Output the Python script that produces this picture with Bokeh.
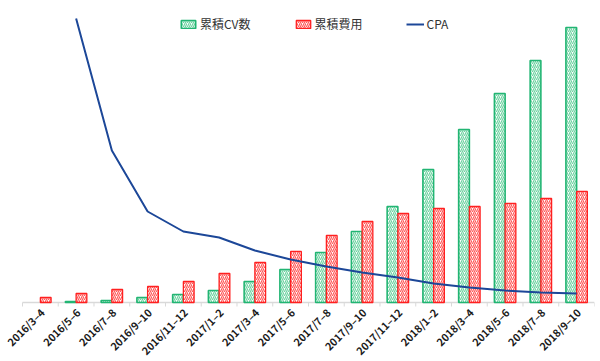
import math
from bokeh.plotting import figure
from bokeh.models import ColumnDataSource, Range1d, Legend, LegendItem
from bokeh.core.properties import value
from bokeh.embed import file_html
from bokeh.resources import INLINE

periods = ["2016/3–4", "2016/5–6", "2016/7–8", "2016/9–10", "2016/11–12",
           "2017/1–2", "2017/3–4", "2017/5–6", "2017/7–8", "2017/9–10", "2017/11–12",
           "2018/1–2", "2018/3–4", "2018/5–6", "2018/7–8", "2018/9–10"]
cv_total = [float("nan"), 1, 2, 5, 8, 12, 21, 33, 50, 71, 96, 133, 173, 209, 242, 275]
cost_total = [5, 9, 13, 16, 21, 29, 40, 51, 67, 81, 89, 94, 96, 99, 104, 111]
cpa = [float("nan"), 284, 152, 91, 71, 65, 52, 43, 36, 30, 25, 19, 15, 12, 10, 9]

n = len(periods)
centers = [i + 0.5 for i in range(n)]
src = ColumnDataSource(dict(
    x=centers,
    xg=[c - 0.15 for c in centers],
    xr=[c + 0.15 for c in centers],
    cv=cv_total, cost=cost_total, cpa=cpa,
    lab=periods, y0=[0] * n,
))
bounds = list(range(n + 1))
tick_src = ColumnDataSource(dict(x=bounds, y0=[0] * (n + 1), y1=[-4] * (n + 1)))

W, H = 600, 361
p = figure(width=W, height=H, output_backend="svg", toolbar_location=None,
           x_range=Range1d(-0.615, n), y_range=Range1d(-59, 288),
           x_axis_location=None, y_axis_location=None,
           min_border_left=0, min_border_right=6,
           min_border_top=14, min_border_bottom=0)
p.outline_line_color = None
p.xgrid.visible = False
p.ygrid.visible = False

# category axis (baseline, boundary ticks, rotated labels)
p.segment(x0="x", y0="y0", x1="x", y1="y1", source=tick_src,
          line_color="#d9d9d9", line_width=1)
p.line(x=[0, n], y=[0, 0], line_color="#d9d9d9", line_width=1.5)
p.text(x="x", y="y0", text="lab", source=src, angle=math.pi / 4,
       text_align="right", text_baseline="middle", x_offset=2, y_offset=8,
       text_font=value("Noto Sans CJK JP"), text_font_size="10.5px",
       text_font_style="bold", text_color="#1a1a1a")

g = p.vbar(x="xg", top="cv", width=0.3, source=src, fill_color="white",
           line_color="#22b573", line_width=1.6,
           hatch_pattern="/", hatch_color="#6fd3a2", hatch_scale=4, hatch_weight=1.2)
r = p.vbar(x="xr", top="cost", width=0.3, source=src, fill_color="white",
           line_color="#ff2020", line_width=1.3,
           hatch_pattern="/", hatch_color="#ff5a5a", hatch_scale=4, hatch_weight=1.2)
l = p.line(x="x", y="cpa", source=src, line_color="#1c4798", line_width=2)

legend = Legend(items=[LegendItem(label="累積CV数", renderers=[g]),
                       LegendItem(label="累積費用", renderers=[r]),
                       LegendItem(label="CPA", renderers=[l])],
                orientation="horizontal", location=(179, 329),
                border_line_color=None, background_fill_alpha=0,
                label_text_font="Noto Sans CJK JP", label_text_font_size="12px",
                label_text_color="#333333", glyph_width=18, glyph_height=10,
                spacing=43, margin=0, padding=0, label_standoff=3)
p.add_layout(legend)

open("out.html", "w").write(file_html(p, INLINE))
